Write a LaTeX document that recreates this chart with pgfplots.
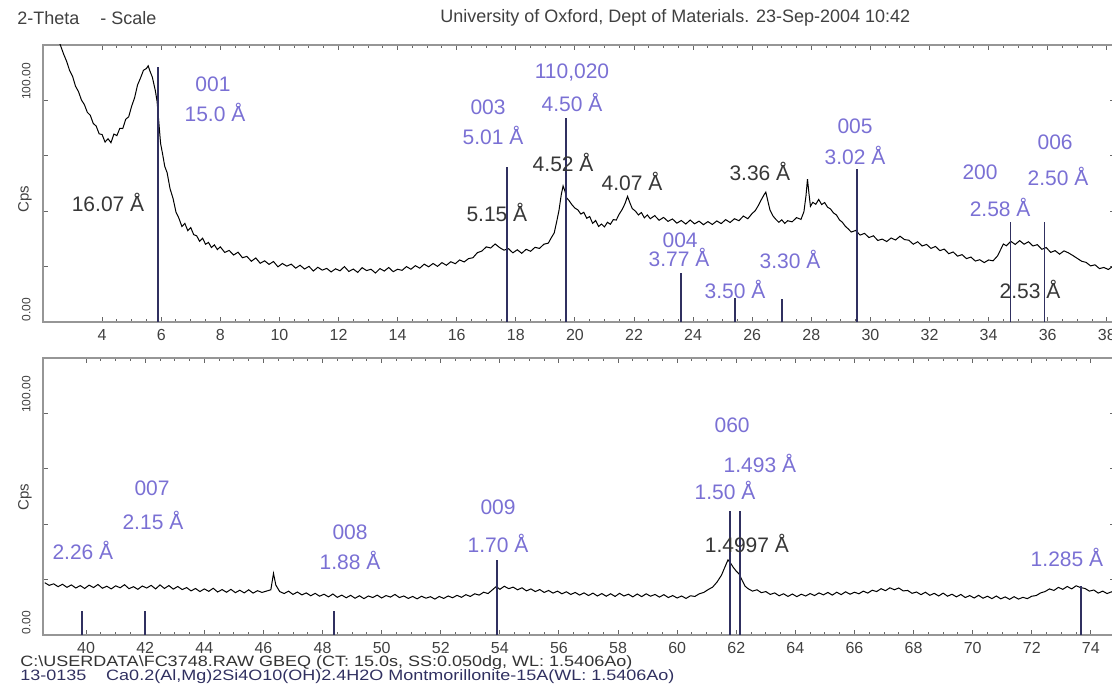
\documentclass[border=0pt]{standalone}
\usepackage{fontspec}
\setmainfont{Liberation Sans}
\usepackage{graphicx}
\usepackage{pgfplots}
\pgfplotsset{compat=1.18}

\definecolor{lav}{RGB}{122,112,212}
\definecolor{stick}{RGB}{48,48,96}
\definecolor{lbl}{RGB}{55,55,55}
\definecolor{frame}{RGB}{150,150,150}

\pgfplotsset{xrd/.style={
  scale only axis, width=536pt, height=138.5pt,
  ymin=0, ymax=125,
  axis line style={frame, line width=0.9pt},
  tick align=inside, tick pos=both,
  major tick length=2.6pt, minor tick length=1.3pt,
  tick style={black!60, line width=0.5pt},
  minor x tick num=3,
  ytick={25,50,75,100}, yticklabels={},
  xticklabel style={font=\fontsize{8}{9}\selectfont, text=black!75},
  /pgf/number format/assume math mode=true,
  clip mode=individual,
}}
\tikzset{
  pl/.style={text=lav, font=\fontsize{10.5}{12}\selectfont, inner sep=0pt},
  bl/.style={text=lbl, font=\fontsize{10.5}{12}\selectfont, inner sep=0pt},
  yl/.style={rotate=90, text=black!75, font=\fontsize{6}{7}\selectfont, inner sep=0pt},
  hd/.style={anchor=west, inner sep=0pt, font=\fontsize{9}{10}\selectfont, text=black!75},
}

\begin{document}
\begin{tikzpicture}
\useasboundingbox (0pt,0pt) rectangle (556pt,344.5pt);
\clip (0pt,0pt) rectangle (556pt,344.5pt);

% header
\node[hd] at (8.5pt,335.5pt) {2-Theta};
\node[hd] at (50pt,335.5pt) {- Scale};
\node[hd] at (220pt,335.5pt) {University of Oxford, Dept of Materials. 23-Sep-2004 10:42};

% ---------- top panel: 2 - 38 deg ----------
\begin{axis}[xrd, at={(21.5pt,183.5pt)}, anchor=south west,
  xmin=2, xmax=38.277, xtick={4,6,...,38}]
\addplot[black, line width=0.5pt] coordinates {
(2.50,128) (2.60,124.5) (2.70,120.8) (2.80,117.6) (2.90,113.5) (3.00,110.9)
(3.10,106.4) (3.20,104.0) (3.30,100.2) (3.40,98.1) (3.50,94.6) (3.60,93.3)
(3.70,89.6) (3.80,88.4) (3.90,84.9) (4.00,84.6) (4.10,81.2) (4.20,82.7)
(4.30,80.9) (4.40,84.8) (4.50,84.1) (4.60,87.4) (4.70,87.3) (4.80,91.5)
(4.90,92.6) (5.00,97.4) (5.10,101.2) (5.20,107.0) (5.30,110.1) (5.40,113.6)
(5.50,114.4) (5.56,115.6) (5.62,113.2) (5.70,110.5) (5.80,104.5) (5.86,99.6)
(5.92,90.0) (5.98,80.5) (6.05,75.6) (6.12,70.2) (6.20,67.4) (6.30,60.1)
(6.40,55.8) (6.50,49.6) (6.60,46.8) (6.70,43.1) (6.80,44.5) (6.90,41.2)
(7.00,42.6) (7.10,39.4) (7.20,38.9) (7.30,36.4) (7.40,37.8) (7.50,35.1)
(7.60,35.9) (7.70,33.6) (7.80,34.8) (7.90,32.7) (8.00,33.9) (8.15,31.4)
(8.30,32.3) (8.45,30.2) (8.60,31.5) (8.75,29.0) (8.90,29.6) (9.05,27.4)
(9.20,28.9) (9.35,26.5) (9.50,27.6) (9.65,26.0) (9.80,27.3) (9.95,24.9)
(10.10,26.4) (10.25,25.2) (10.40,26.1) (10.55,24.3) (10.70,25.6) (10.85,23.9)
(11.00,25.1) (11.15,23.0) (11.30,24.7) (11.45,23.4) (11.60,24.2) (11.75,22.6)
(11.90,24.0) (12.05,23.1) (12.20,25.0) (12.35,22.8) (12.50,23.9) (12.65,22.4)
(12.80,24.5) (12.95,23.2) (13.10,23.8) (13.25,22.1) (13.40,24.1) (13.55,23.0)
(13.70,24.6) (13.85,22.7) (14.00,23.8) (14.15,23.3) (14.30,25.0) (14.45,23.8)
(14.60,25.4) (14.75,24.3) (14.90,26.1) (15.05,24.9) (15.20,26.4) (15.35,25.1)
(15.50,26.8) (15.65,25.6) (15.80,27.2) (15.95,26.3) (16.10,28.0) (16.25,27.1)
(16.40,28.6) (16.55,29.0) (16.70,31.3) (16.85,32.0) (17.00,33.9) (17.15,33.4)
(17.30,35.2) (17.45,33.6) (17.60,32.4) (17.75,33.1) (17.90,31.2) (18.05,32.6)
(18.20,31.0) (18.35,32.8) (18.50,31.9) (18.65,33.7) (18.80,33.2) (18.95,35.1)
(19.10,35.6) (19.20,38.0) (19.30,40.2) (19.38,45.1) (19.46,50.3) (19.54,57.6)
(19.60,61.4) (19.66,59.2) (19.72,56.0) (19.80,54.8) (19.90,52.9) (20.00,51.4)
(20.10,50.6) (20.20,48.7) (20.30,49.5) (20.40,46.8) (20.50,47.6) (20.60,44.5)
(20.70,45.8) (20.80,43.1) (20.90,44.2) (21.00,42.9) (21.10,45.0) (21.20,44.1)
(21.30,46.2) (21.40,46.0) (21.50,48.7) (21.60,50.8) (21.70,53.6) (21.78,56.7)
(21.86,53.8) (21.94,51.2) (22.05,50.0) (22.15,48.3) (22.25,49.4) (22.35,47.0)
(22.45,48.3) (22.55,46.6) (22.70,48.0) (22.85,45.9) (23.00,47.2) (23.15,45.4)
(23.30,46.5) (23.45,44.6) (23.60,45.8) (23.75,44.2) (23.90,46.0) (24.05,44.3)
(24.20,45.5) (24.35,43.9) (24.50,45.3) (24.65,44.0) (24.80,45.6) (24.95,44.4)
(25.10,46.2) (25.25,44.9) (25.40,46.6) (25.55,45.7) (25.70,47.8) (25.85,46.6)
(26.00,49.0) (26.10,50.2) (26.20,52.4) (26.30,55.0) (26.40,57.4) (26.46,58.6)
(26.52,55.1) (26.60,50.6) (26.70,47.9) (26.80,46.3) (26.90,45.0) (27.00,46.1)
(27.10,44.5) (27.20,45.7) (27.35,45.2) (27.50,47.1) (27.65,46.3) (27.75,49.8)
(27.82,57.0) (27.87,64.5) (27.92,58.0) (27.97,52.2) (28.05,54.0) (28.15,53.1)
(28.25,55.3) (28.35,53.0) (28.45,53.9) (28.55,51.8) (28.65,51.0) (28.75,49.2)
(28.85,48.3) (28.95,46.1) (29.05,45.0) (29.15,43.2) (29.25,42.0) (29.35,40.6)
(29.50,41.3) (29.65,39.2) (29.80,40.0) (29.95,38.1) (30.10,38.9) (30.25,36.8)
(30.40,37.4) (30.55,36.3) (30.70,37.9) (30.85,37.0) (31.00,38.7) (31.15,37.2)
(31.30,36.9) (31.45,35.1) (31.60,36.2) (31.75,34.3) (31.90,35.0) (32.05,33.2)
(32.20,34.1) (32.35,32.2) (32.50,32.9) (32.65,30.8) (32.80,31.6) (32.95,29.7)
(33.10,30.4) (33.25,28.6) (33.40,29.3) (33.55,27.5) (33.70,28.1) (33.85,26.8)
(34.00,28.0) (34.15,27.6) (34.30,29.8) (34.40,32.5) (34.50,35.2) (34.60,34.4)
(34.75,36.4) (34.90,35.0) (35.05,36.7) (35.20,35.1) (35.35,36.2) (35.50,34.3)
(35.65,34.9) (35.80,32.8) (35.95,33.6) (36.10,31.4) (36.25,32.2) (36.40,30.6)
(36.55,32.1) (36.70,31.2) (36.85,30.0) (37.00,28.7) (37.15,27.4) (37.30,26.9)
(37.45,25.3) (37.60,25.8) (37.75,24.1) (37.90,24.6) (38.05,23.7) (38.20,25.1)
(38.35,24.6)
};
% reference pattern 13-0135 (d in A -> 2theta)
\addplot[ycomb, stick, line width=0.9pt] coordinates {
(5.89,115) (17.69,70) (19.71,92) (23.58,22) (25.43,11) (27.00,10.5)
(29.55,69) (34.74,45) (35.89,45)
};
\node[pl] at (axis cs:7.75,107.2) {001};
\node[pl] at (axis cs:7.82,94.6) {15.0 Å};
\node[pl] at (axis cs:17.06,96.8) {003};
\node[pl] at (axis cs:17.23,84.2) {5.01 Å};
\node[pl] at (axis cs:19.9,112.7) {110,020};
\node[pl] at (axis cs:19.9,99.1) {4.50 Å};
\node[pl] at (axis cs:23.56,37.1) {004};
\node[pl] at (axis cs:23.52,29.0) {3.77 Å};
\node[pl] at (axis cs:25.42,14.5) {3.50 Å};
\node[pl] at (axis cs:27.28,28.1) {3.30 Å};
\node[pl] at (axis cs:29.48,88.2) {005};
\node[pl] at (axis cs:29.48,75.1) {3.02 Å};
\node[pl] at (axis cs:33.71,67.4) {200};
\node[pl] at (axis cs:34.39,51.6) {2.58 Å};
\node[pl] at (axis cs:36.25,81.0) {006};
\node[pl] at (axis cs:36.35,65.6) {2.50 Å};
\node[bl] at (axis cs:4.2,53.8) {16.07 Å};
\node[bl] at (axis cs:17.36,49.3) {5.15 Å};
\node[bl] at (axis cs:19.6,71.9) {4.52 Å};
\node[bl] at (axis cs:21.93,63.3) {4.07 Å};
\node[bl] at (axis cs:26.26,67.9) {3.36 Å};
\node[bl] at (axis cs:35.4,14.5) {2.53 Å};
\node[yl, anchor=south west] at ([xshift=-6pt]rel axis cs:0,0) {0.00};
\node[yl, anchor=south west] at ([xshift=-6pt]axis cs:2,100) {100.00};
\node[rotate=90, text=black!75, font=\fontsize{7.5}{8}\selectfont] at ([xshift=-9pt]rel axis cs:0,0.444) {Cps};
\end{axis}

% ---------- bottom panel: 38.5 - 75 deg ----------
\begin{axis}[xrd, at={(21.5pt,27pt)}, anchor=south west,
  xmin=38.54, xmax=74.817, xtick={40,42,...,74}]
\addplot[black, line width=0.5pt] coordinates {
(38.60,23.6) (38.75,22.4) (38.90,23.1) (39.05,21.8) (39.20,22.9) (39.35,21.5)
(39.50,22.6) (39.65,21.2) (39.80,22.3) (39.95,21.0) (40.10,22.5) (40.25,21.4)
(40.40,22.8) (40.55,21.1) (40.70,22.0) (40.85,20.8) (41.00,22.2) (41.15,21.3)
(41.30,22.7) (41.45,20.9) (41.60,21.8) (41.75,20.6) (41.90,22.1) (42.05,21.2)
(42.20,22.4) (42.35,20.8) (42.50,22.6) (42.65,21.0) (42.80,22.3) (42.95,20.7)
(43.10,21.9) (43.25,20.5) (43.40,21.4) (43.55,19.9) (43.70,21.0) (43.85,19.6)
(44.00,20.8) (44.15,19.7) (44.30,21.1) (44.45,19.4) (44.60,20.5) (44.75,19.3)
(44.90,20.6) (45.05,19.1) (45.20,20.2) (45.35,19.0) (45.50,20.4) (45.65,18.9)
(45.80,20.0) (45.95,19.2) (46.10,19.8) (46.25,20.4) (46.34,27.8) (46.42,22.5)
(46.55,19.6) (46.70,18.7) (46.85,19.8) (47.00,18.3) (47.15,19.4) (47.30,18.1)
(47.45,19.0) (47.60,17.7) (47.75,18.8) (47.90,17.5) (48.05,18.4) (48.20,17.2)
(48.35,18.5) (48.50,17.0) (48.65,18.0) (48.80,16.8) (48.95,17.9) (49.10,16.6)
(49.25,17.7) (49.40,16.4) (49.55,17.6) (49.70,16.9) (49.85,18.0) (50.00,16.7)
(50.15,17.8) (50.30,17.1) (50.45,18.3) (50.60,16.9) (50.75,17.6) (50.90,16.5)
(51.05,17.4) (51.20,16.3) (51.35,17.5) (51.50,16.6) (51.65,17.3) (51.80,16.2)
(51.95,17.4) (52.10,16.5) (52.25,17.6) (52.40,16.8) (52.55,17.9) (52.70,17.0)
(52.85,18.2) (53.00,17.4) (53.15,18.6) (53.30,18.0) (53.45,19.3) (53.60,18.7)
(53.75,20.4) (53.88,21.9) (54.00,20.6) (54.15,22.0) (54.30,20.9) (54.45,21.6)
(54.60,20.4) (54.75,21.3) (54.90,19.9) (55.05,20.8) (55.20,19.6) (55.35,20.5)
(55.50,19.2) (55.65,20.1) (55.80,18.9) (55.95,19.8) (56.10,18.6) (56.25,19.5)
(56.40,18.3) (56.55,19.2) (56.70,18.0) (56.85,19.0) (57.00,17.8) (57.15,18.9)
(57.30,17.6) (57.45,18.7) (57.60,17.5) (57.75,18.6) (57.90,17.4) (58.05,18.8)
(58.20,17.6) (58.35,18.4) (58.50,17.2) (58.65,18.5) (58.80,17.3) (58.95,18.6)
(59.10,17.5) (59.25,18.3) (59.40,17.1) (59.55,18.2) (59.70,16.9) (59.85,17.8)
(60.00,16.7) (60.15,17.6) (60.30,16.5) (60.45,17.7) (60.60,17.4) (60.75,18.6)
(60.90,19.2) (61.05,20.5) (61.20,21.6) (61.35,23.9) (61.50,27.0) (61.62,30.8)
(61.72,33.9) (61.80,32.6) (61.90,30.5) (62.00,28.8) (62.10,27.5) (62.20,24.6)
(62.30,22.0) (62.40,20.9) (62.55,19.8) (62.70,20.4) (62.85,19.1) (63.00,19.6)
(63.15,18.3) (63.30,19.0) (63.45,17.7) (63.60,18.6) (63.75,17.4) (63.90,18.5)
(64.05,17.3) (64.20,18.4) (64.35,17.6) (64.50,18.7) (64.65,17.8) (64.80,19.0)
(64.95,18.1) (65.10,19.2) (65.25,18.0) (65.40,19.3) (65.55,18.2) (65.70,19.5)
(65.85,18.4) (66.00,19.3) (66.15,18.6) (66.30,19.8) (66.45,18.9) (66.60,20.2)
(66.75,19.6) (66.90,20.9) (67.05,20.0) (67.20,21.3) (67.35,20.4) (67.50,21.2)
(67.65,19.9) (67.80,20.1) (67.95,18.8) (68.10,19.4) (68.25,18.2) (68.40,19.3)
(68.55,17.9) (68.70,18.8) (68.85,17.6) (69.00,18.9) (69.15,17.5) (69.30,18.4)
(69.45,17.2) (69.60,18.3) (69.75,16.9) (69.90,17.8) (70.05,16.7) (70.20,17.9)
(70.35,16.6) (70.50,17.5) (70.65,16.4) (70.80,17.6) (70.95,16.3) (71.10,17.2)
(71.25,16.1) (71.40,17.3) (71.55,16.2) (71.70,17.0) (71.85,16.4) (72.00,17.5)
(72.15,17.8) (72.30,19.0) (72.45,19.6) (72.60,20.8) (72.75,20.1) (72.90,21.5)
(73.05,20.6) (73.20,21.9) (73.35,20.8) (73.50,22.2) (73.65,21.4) (73.80,21.0)
(73.95,19.8) (74.10,20.3) (74.25,18.9) (74.40,19.8) (74.55,18.7) (74.70,19.5)
(74.85,18.6)
};
\addplot[ycomb, stick, line width=0.9pt] coordinates {
(39.86,11) (41.99,11) (48.38,11) (53.89,34) (61.80,56) (62.12,56) (73.66,22)
};
\node[pl] at (axis cs:39.89,38.3) {2.26 Å};
\node[pl] at (axis cs:42.23,66.2) {007};
\node[pl] at (axis cs:42.26,51.8) {2.15 Å};
\node[pl] at (axis cs:48.93,46.4) {008};
\node[pl] at (axis cs:48.93,33.8) {1.88 Å};
\node[pl] at (axis cs:53.94,57.7) {009};
\node[pl] at (axis cs:53.94,41.4) {1.70 Å};
\node[pl] at (axis cs:61.86,94.6) {060};
\node[pl] at (axis cs:62.8,77.5) {1.493 Å};
\node[pl] at (axis cs:61.62,65.3) {1.50 Å};
\node[pl] at (axis cs:73.19,35.1) {1.285 Å};
\node[bl] at (axis cs:62.36,41.4) {1.4997 Å};
\node[yl, anchor=south west] at ([xshift=-6pt]rel axis cs:0,0) {0.00};
\node[yl, anchor=south west] at ([xshift=-6pt]axis cs:38.54,100) {100.00};
\node[rotate=90, text=black!75, font=\fontsize{7.5}{8}\selectfont] at ([xshift=-9pt]rel axis cs:0,0.498) {Cps};
\end{axis}

% footer
\node[anchor=west, inner sep=0pt, font=\fontsize{7.5}{8}\selectfont, text=black!80] at (10pt,13pt) {\scalebox{1.2}[1]{C:\textbackslash USERDATA\textbackslash FC3748.RAW GBEQ (CT: 15.0s, SS:0.050dg, WL: 1.5406Ao)}};
\node[anchor=west, inner sep=0pt, font=\fontsize{7.5}{8}\selectfont, text=stick] at (10pt,6pt) {\scalebox{1.2}[1]{13-0135\hspace{1.1em}Ca0.2(Al,Mg)2Si4O10(OH)2.4H2O Montmorillonite-15A(WL: 1.5406Ao)}};
\end{tikzpicture}
\end{document}
